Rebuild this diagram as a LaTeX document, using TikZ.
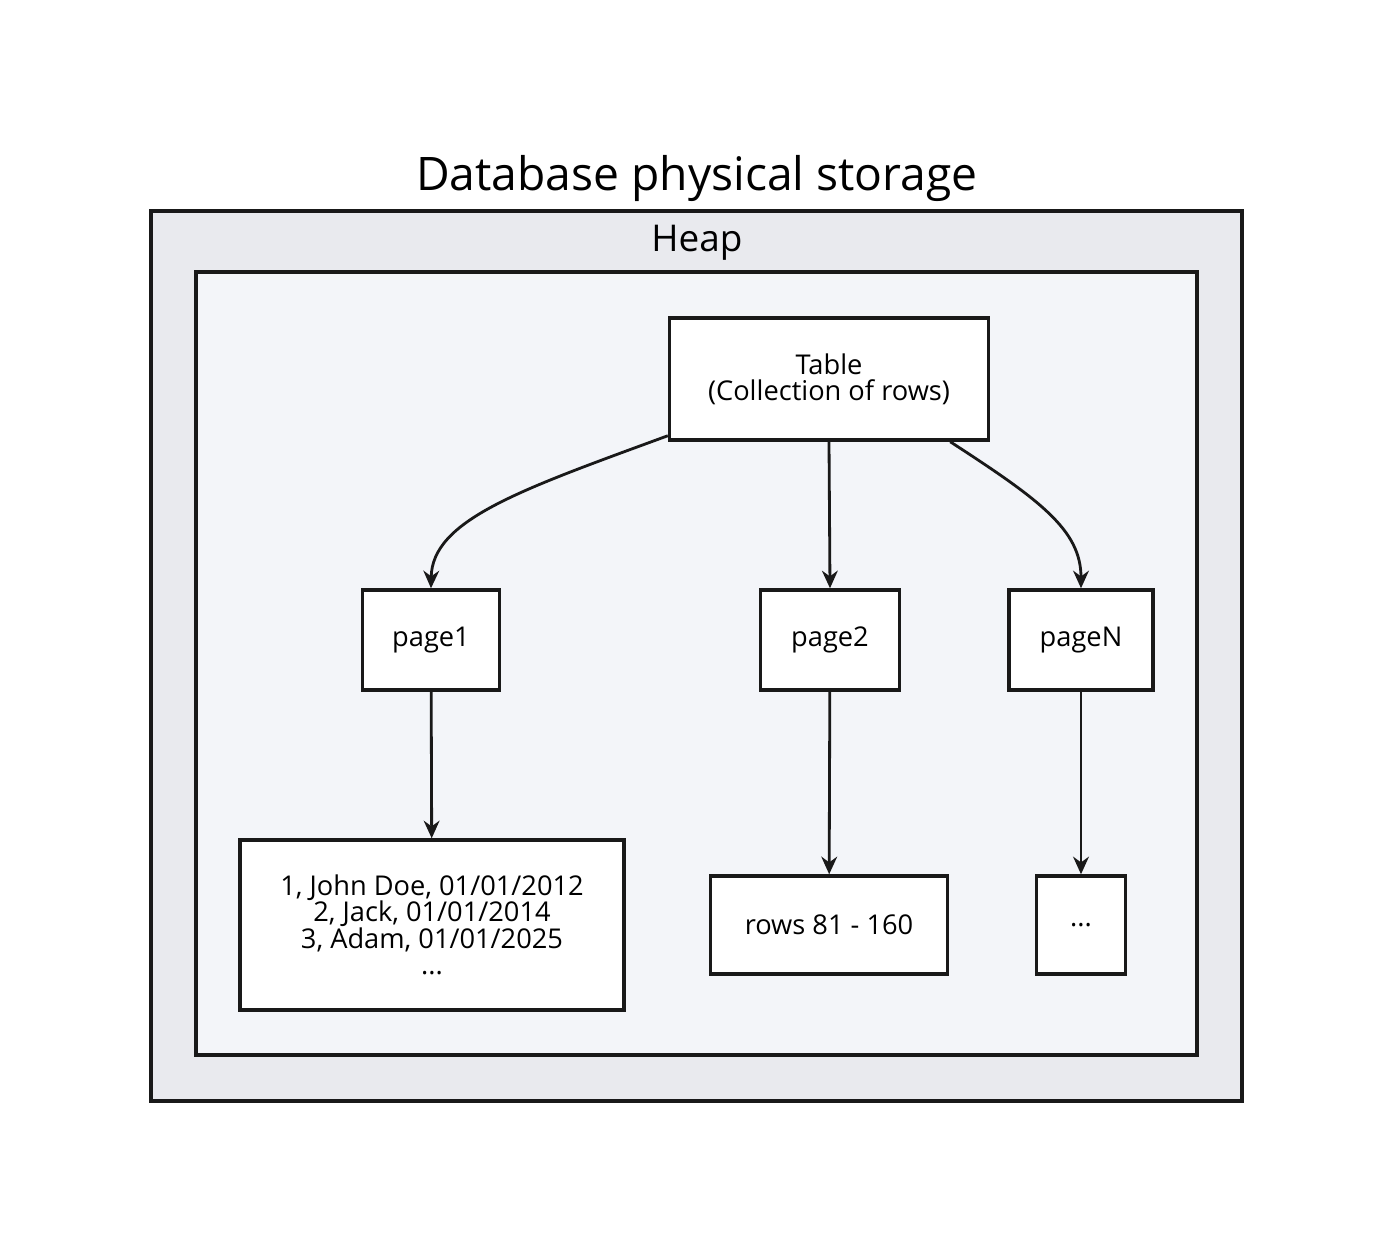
\documentclass[tikz,border=0pt]{standalone}
\usepackage{fontspec}
\setmainfont{Open Sans}
\usepackage{tikz}
\usetikzlibrary{arrows.meta,positioning}
\definecolor{heapgray}{HTML}{E9EAEE}
\definecolor{pagebg}{HTML}{F3F5F9}
\tikzset{
    store title/.style={font=\fontsize{26.3}{30}\selectfont},
    heap title/.style={font=\fontsize{21}{24}\selectfont},
    store frame/.style={draw=black!90, line width=2pt, fill=heapgray},
    heap frame/.style={draw=black!90, line width=2pt, fill=pagebg},
    store box/.style={
        draw=black!90,
        line width=2pt,
        fill=white,
        align=center,
        font=\fontsize{15.5}{15}\selectfont,
        inner sep=4pt
    },
    store arrow/.style={-{Stealth[length=10pt,width=9pt]}, line width=1.6pt, draw=black!90}
}
\begin{document}
\begin{tikzpicture}[x=0.02cm, y=-0.02cm]
\useasboundingbox (0,0) rectangle (1393,1252);
% frames
\node[store title] (title) at (697,178) {Database physical storage};
\draw[store frame] (151,211) rectangle (1242,1101);
\node[heap title] (heap) at (697,243) {Heap};
\draw[heap frame] (196,272) rectangle (1197,1055);

% table and pages
\node[store box, minimum width=6.38cm, minimum height=2.44cm] (table) at (829,379) {Table\\(Collection of rows)};
\node[store box, minimum width=2.74cm, minimum height=2cm] (page1) at (431,640) {page1};
\node[store box, minimum width=2.78cm, minimum height=2cm] (page2) at (830,640) {page2};
\node[store box, minimum width=2.88cm, minimum height=2cm] (pageN) at (1081,640) {pageN};

% rows
\node[store box, minimum width=7.68cm, minimum height=3.4cm] (rows1) at (432,925) {1, John Doe, 01/01/2012\\2, Jack, 01/01/2014\\3, Adam, 01/01/2025\\...};
\node[store box, minimum width=4.74cm, minimum height=1.96cm] (rows2) at (829,925) {rows 81 - 160};
\node[store box, minimum width=1.78cm, minimum height=1.96cm] (rowsN) at (1081,925) {...};

\draw[store arrow] (table.south west) ++(0,-6) .. controls (520,490) and (432,520) .. (page1.north);
\draw[store arrow] (table.south) -- (page2.north);
\draw[store arrow] ([xshift=-0.8cm]table.south east) .. controls (1040,500) and (1081,530) .. (pageN.north);
\draw[store arrow] (page1) -- (rows1);
\draw[store arrow] (page2) -- (rows2);
\draw[store arrow] (pageN) -- (rowsN);
\end{tikzpicture}
\end{document}
